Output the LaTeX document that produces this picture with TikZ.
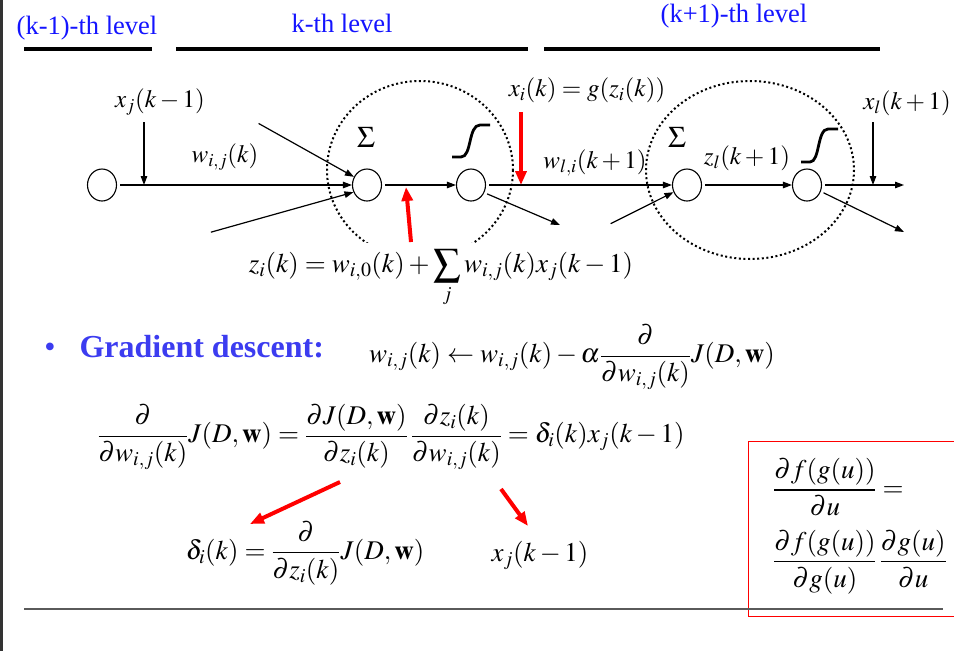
\documentclass[tikz,border=0pt]{standalone}
\usepackage{mathptmx}
\usepackage[no-math]{fontspec}
\setmainfont{Liberation Serif}
\usetikzlibrary{arrows.meta,shapes.geometric}
\definecolor{levelblue}{RGB}{20,20,255}
\definecolor{gdblue}{RGB}{60,60,240}
\definecolor{rulegray}{RGB}{90,90,90}
\begin{document}
\begin{tikzpicture}[x=1pt, y=-1pt, >={Triangle[length=9pt,width=6.5pt]},
  neuron/.style={draw, ellipse, line width=1.1pt, minimum width=29pt, minimum height=32pt, inner sep=0pt},
  wire/.style={->, line width=1.2pt, shorten <=3pt},
  redarrow/.style={-{Triangle[length=14pt,width=11pt]}, red, line width=4pt},
  lvl/.style={text=levelblue, font=\fontsize{26.5}{30}\selectfont},
  bar/.style={line width=4pt},
  lab/.style={font=\fontsize{25}{28}\selectfont, inner sep=1pt},
  eqn/.style={font=\fontsize{27}{30}\selectfont, inner sep=1pt},
  sig/.style={line width=2.8pt},
  layerring/.style={line width=2pt, dash pattern=on 2pt off 2.6pt}]
  \useasboundingbox (0,0) rectangle (954,651);
  \fill[black!80] (0,0) rectangle (3,651);
  % level headings
  \node[lvl] (lvlprev) at (87,28) {(k-1)-th level};
  \node[lvl] (lvlcur) at (342,23) {k-th level};
  \node[lvl] (lvlnext) at (734,16) {(k+1)-th level};
  \draw[bar] (24,49) -- (152,49);
  \draw[bar] (176,49) -- (528,49);
  \draw[bar] (544,49) -- (880,49);
  % dotted units
  \begin{scope}
    \clip (0,0) rectangle (954,242);
    \draw[layerring] (420,170) ellipse [x radius=93, y radius=89];
  \end{scope}
  \draw[layerring] (750,170) ellipse [x radius=104, y radius=89];
  % neurons
  \node[neuron] (in) at (102,185) {};
  \node[neuron] (s1) at (367,185) {};
  \node[neuron] (a1) at (471,185) {};
  \node[neuron] (s2) at (687,185) {};
  \node[neuron] (a2) at (807,185) {};
  \node[lab, font=\fontsize{30}{32}\selectfont] (sum1) at (366,137) {$\Sigma$};
  \node[lab, font=\fontsize{30}{32}\selectfont] (sum2) at (677,137) {$\Sigma$};
  \draw[sig] (452,157) -- (461,157) .. controls (472,157) and (468,125) .. (480,125) -- (490,125);
  \draw[sig] (801,162) -- (810,162) .. controls (820,162) and (817,129) .. (828,129) -- (838,129);
  % connectors
  \coordinate (xjtop) at (144,119);
  \coordinate (xjon) at (144,185);
  \coordinate (upin) at (256,122);
  \coordinate (lowin) at (208,233);
  \coordinate (a1out) at (560,225);
  \coordinate (s2in) at (608,225);
  \coordinate (out) at (904,185);
  \coordinate (xltop) at (873,119);
  \coordinate (xlon) at (873,185);
  \coordinate (a2out) at (904,232);
  \draw[wire] (in) -- (s1);
  \draw[wire] (xjtop) -- (xjon);
  \draw[wire] (upin) -- (s1.148);
  \draw[wire] (lowin) -- (s1.208);
  \draw[wire] (s1) -- (a1);
  \draw[wire] (a1) -- (s2);
  \draw[wire] (a1.-30) -- (a1out);
  \draw[wire] (s2in) -- (s2.208);
  \draw[wire] (s2) -- (a2);
  \draw[wire] (a2) -- (out);
  \draw[wire] (xltop) -- (xlon);
  \draw[wire] (a2.-25) -- (a2out);
  % labels
  \node[lab] (xjlab) at (160,102) {$x_j(k-1)$};
  \node[lab] (wijlab) at (225,157) {$w_{i,j}(k)$};
  \node[lab] (xilab) at (587,90) {$x_i(k)=g(z_i(k))$};
  \node[lab] (wlilab) at (595,163) {$w_{l,i}(k+1)$};
  \node[lab] (zllab) at (747,158) {$z_l(k+1)$};
  \node[lab] (xllab) at (907,103) {$x_l(k+1)$};
  \node[eqn] (zeq) at (441,278) {$\displaystyle z_i(k)=w_{i,0}(k)+\sum_j w_{i,j}(k)x_j(k-1)$};
  \coordinate (zeqtail) at (411,242);
  \coordinate (zmark) at (406,187);
  \coordinate (xitail) at (521,112);
  \coordinate (ximark) at (521,185);
  \draw[redarrow] (zeqtail) -- (zmark);
  \draw[redarrow] (xitail) -- (ximark);
  % gradient descent
  \node[text=gdblue, font=\fontsize{32}{36}\selectfont] (gdbullet) at (50,350) {\textbullet};
  \node[text=gdblue, font=\fontsize{32}{36}\selectfont\bfseries, anchor=west] (gdlab) at (76,347) {Gradient descent:};
  \node[eqn] (upd) at (572,357) {$\displaystyle w_{i,j}(k)\leftarrow w_{i,j}(k)-\alpha\frac{\partial}{\partial w_{i,j}(k)}J(D,\mathbf{w})$};
  \node[eqn] (chain) at (391,437) {$\displaystyle \frac{\partial}{\partial w_{i,j}(k)}J(D,\mathbf{w})=\frac{\partial J(D,\mathbf{w})}{\partial z_i(k)}\,\frac{\partial z_i(k)}{\partial w_{i,j}(k)}=\delta_i(k)x_j(k-1)$};
  \node[eqn] (delta) at (305,553) {$\displaystyle \delta_i(k)=\frac{\partial}{\partial z_i(k)}J(D,\mathbf{w})$};
  \node[eqn] (xjres) at (540,555) {$x_j(k-1)$};
  \coordinate (dJtail) at (340,482);
  \coordinate (deltamark) at (250,524);
  \coordinate (dztail) at (501,489);
  \coordinate (xjmark) at (528,526);
  \draw[redarrow] (dJtail) -- (deltamark);
  \draw[redarrow] (dztail) -- (xjmark);
  % chain rule box
  \draw[red, line width=1pt] (748,441) rectangle (960,616);
  \node[eqn, anchor=west] (rule1) at (772,487) {$\displaystyle \frac{\partial f(g(u))}{\partial u}=$};
  \node[eqn, anchor=west] (rule2) at (772,562) {$\displaystyle \frac{\partial f(g(u))}{\partial g(u)}\,\frac{\partial g(u)}{\partial u}$};
  \draw[rulegray, line width=1.5pt] (24,609) -- (943,609);
\end{tikzpicture}
\end{document}
